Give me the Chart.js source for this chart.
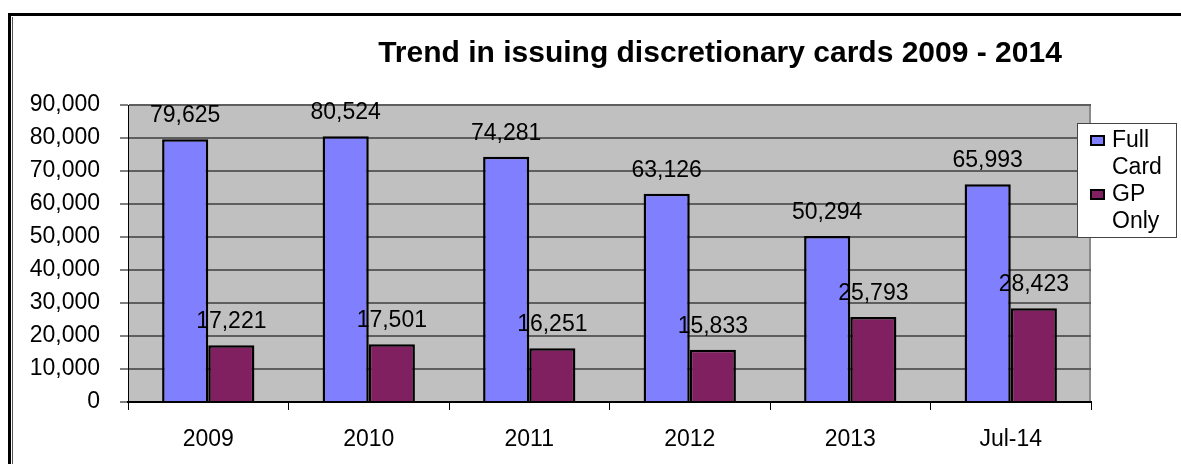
<!DOCTYPE html>
<html>
<head>
<meta charset="utf-8">
<script src="https://cdn.jsdelivr.net/npm/chart.js@4/dist/chart.umd.min.js"></script>
<style>
  html, body { margin: 0; padding: 0; background: #ffffff; }
  #wrap { position: relative; width: 1181px; height: 464px; }
  canvas { display: block; }
</style>
</head>
<body>
<div id="wrap"><canvas id="c" width="1181" height="464"></canvas></div>
<script>
// Cards issued per year
const categories = ['2009', '2010', '2011', '2012', '2013', 'Jul-14'];
const fullCard = [79625, 80524, 74281, 63126, 50294, 65993];
const gpOnly = [17221, 17501, 16251, 15833, 25793, 28423];
const seriesNames = ['Full Card', 'GP Only'];
const yTicks = [0, 10000, 20000, 30000, 40000, 50000, 60000, 70000, 80000, 90000];
const chartTitle = 'Trend in issuing discretionary cards 2009 - 2014';

const FONT = '"Liberation Sans", Arial, sans-serif';
const fmt = v => v.toLocaleString('en-US');

// White page with the frame line along the top and left edges
const framePlugin = {
  id: 'frame',
  beforeDraw(chart) {
    const ctx = chart.ctx;
    ctx.save();
    ctx.fillStyle = '#ffffff';
    ctx.fillRect(0, 0, chart.width, chart.height);
    ctx.fillStyle = '#000000';
    ctx.fillRect(8, 13, chart.width - 8, 3);
    ctx.fillRect(8, 13, 3, chart.height - 13);
    ctx.fillStyle = '#555555';
    ctx.fillRect(12, 17, 1, chart.height - 17);
    ctx.restore();
  }
};

// Grey plot background
const plotBgPlugin = {
  id: 'plotBg',
  beforeDraw(chart) {
    const a = chart.chartArea;
    const ctx = chart.ctx;
    ctx.save();
    ctx.fillStyle = '#c0c0c0';
    ctx.fillRect(a.left, a.top, a.right - a.left, a.bottom - a.top);
    ctx.fillStyle = '#8a8a8a';
    ctx.fillRect(a.right - 2, a.top, 2, a.bottom - a.top);
    ctx.restore();
  }
};

// Value labels above each bar
const valueLabelPlugin = {
  id: 'valueLabels',
  afterDatasetsDraw(chart) {
    const ctx = chart.ctx;
    ctx.save();
    ctx.font = '23px ' + FONT;
    ctx.fillStyle = '#000000';
    ctx.textAlign = 'center';
    ctx.textBaseline = 'alphabetic';
    chart.data.datasets.forEach((ds, i) => {
      chart.getDatasetMeta(i).data.forEach((bar, j) => {
        ctx.fillText(fmt(ds.data[j]), bar.x, bar.y - 17);
      });
    });
    ctx.restore();
  }
};

// Chart title
const titlePlugin = {
  id: 'titleText',
  afterDraw(chart, args, opts) {
    const ctx = chart.ctx;
    ctx.save();
    ctx.font = 'bold 30px ' + FONT;
    ctx.fillStyle = '#000000';
    ctx.textAlign = 'center';
    ctx.textBaseline = 'alphabetic';
    ctx.fillText(opts.text, opts.x, opts.y);
    ctx.restore();
  }
};

// Boxed legend, one word per line
const legendBoxPlugin = {
  id: 'legendBox',
  afterDraw(chart, args, opts) {
    const ctx = chart.ctx;
    const b = opts.box;
    ctx.save();
    ctx.fillStyle = '#ffffff';
    ctx.fillRect(b.x, b.y, b.w, b.h);
    ctx.strokeStyle = '#444444';
    ctx.lineWidth = 1;
    ctx.strokeRect(b.x + 0.5, b.y + 0.5, b.w - 1, b.h - 1);
    ctx.font = '23px ' + FONT;
    ctx.textAlign = 'left';
    ctx.textBaseline = 'alphabetic';
    let baseline = b.y + 24;
    chart.data.datasets.forEach(ds => {
      ctx.fillStyle = '#000000';
      ctx.fillRect(b.x + 13, baseline - 12, 15, 11);
      ctx.fillStyle = ds.backgroundColor;
      ctx.fillRect(b.x + 15, baseline - 10, 11, 7);
      const words = ds.label.split(' ');
      words.forEach(w => {
        ctx.fillStyle = '#000000';
        ctx.fillText(w, b.x + 35, baseline);
        baseline += 27;
      });
    });
    ctx.restore();
  }
};

new Chart(document.getElementById('c'), {
  type: 'bar',
  data: {
    labels: categories,
    datasets: [
      { label: seriesNames[0], data: fullCard, backgroundColor: '#8080ff', borderColor: '#000000', borderWidth: 2.5 },
      { label: seriesNames[1], data: gpOnly, backgroundColor: '#802060', borderColor: '#000000', borderWidth: 2.5 }
    ]
  },
  options: {
    responsive: false,
    animation: false,
    devicePixelRatio: 1,
    layout: { padding: { left: 0, top: 105, right: 90, bottom: 0 } },
    datasets: { bar: { categoryPercentage: 0.575, barPercentage: 1.0 } },
    plugins: {
      legend: { display: false },
      title: { display: false },
      tooltip: { enabled: false },
      titleText: { text: chartTitle, x: 720, y: 62 },
      legendBox: { box: { x: 1077, y: 123, w: 100, h: 115 } }
    },
    scales: {
      x: {
        afterFit(s) { s.height = 62; },
        grid: { display: true, drawOnChartArea: false, drawTicks: true, tickLength: 8, tickColor: '#000000', offset: true },
        border: { display: true, color: '#000000', width: 2 },
        ticks: { color: '#000000', font: { family: FONT, size: 23 }, padding: 16, maxRotation: 0, autoSkip: false }
      },
      y: {
        min: 0,
        max: 90000,
        afterFit(s) { s.width = 128; },
        afterBuildTicks(s) { s.ticks = yTicks.map(v => ({ value: v })); },
        grid: { color: '#5e5e5e', lineWidth: 2, tickLength: 8, tickColor: '#000000', tickWidth: 1 },
        border: { display: true, color: '#000000', width: 1 },
        ticks: { color: '#000000', font: { family: FONT, size: 23 }, padding: 20, callback: v => fmt(v) }
      }
    }
  },
  plugins: [framePlugin, plotBgPlugin, valueLabelPlugin, titlePlugin, legendBoxPlugin]
});
</script>
</body>
</html>
